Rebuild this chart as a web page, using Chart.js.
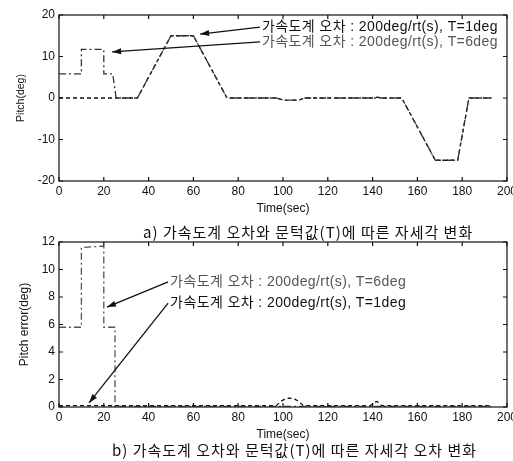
<!DOCTYPE html>
<html>
<head>
<meta charset="utf-8">
<script src="https://cdn.jsdelivr.net/npm/chart.js@4"></script>
<style>
  body { margin: 0; background: #fff; }
  #wrap { position: relative; width: 513px; height: 461px; overflow: hidden; }
  canvas { position: absolute; left: 0; }
  .cap { position: absolute; font: 15px "Noto Sans CJK KR", sans-serif; letter-spacing: 1px; color: #111; white-space: nowrap; }
</style>
</head>
<body>
<div id="wrap">
  <canvas id="chartA" width="530" height="216" style="top:0"></canvas>
  <canvas id="chartB" width="530" height="212" style="top:230px"></canvas>
  <div class="cap" style="left:143px; top:221px">a) 가속도계 오차와 문턱값(T)에 따른 자세각 변화</div>
  <div class="cap" style="left:112px; top:439px">b) 가속도계 오차와 문턱값(T)에 따른 자세각 오차 변화</div>
</div>
<script>
// a) pitch, T=1deg
const timeA1 = [0, 35, 50, 60, 75, 97, 100, 107, 110, 140, 142, 144, 153, 168, 178, 183, 193];
const pitchA1 = [0, 0, 15, 15, 0, 0, -0.5, -0.5, 0, 0, 0.2, 0, 0, -15, -15, 0, 0];
// a) pitch, T=6deg
const timeA6 = [0, 10, 10, 20, 20, 24, 25.5, 35, 50, 60, 75, 97, 100, 107, 110, 153, 168, 178, 183, 193];
const pitchA6 = [5.8, 5.8, 11.7, 11.7, 5.8, 5.8, 0, 0, 15, 15, 0, 0, -0.5, -0.5, 0, 0, -15, -15, 0, 0];
// b) pitch error, T=1deg
const timeB1 = [0, 97, 99, 101, 103, 105, 107, 109, 139, 141, 142, 144, 193];
const errB1 = [0.1, 0.1, 0.4, 0.6, 0.65, 0.6, 0.4, 0.1, 0.1, 0.35, 0.4, 0.1, 0.1];
// b) pitch error, T=6deg
const timeB6 = [0, 10, 10, 20, 20, 25, 25, 193];
const errB6 = [5.8, 5.8, 11.6, 11.7, 5.8, 5.8, 0.05, 0.05];

const xTicks = [0, 20, 40, 60, 80, 100, 120, 140, 160, 180, 200];
const labelT1 = "가속도계 오차 : 200deg/rt(s), T=1deg";
const labelT6 = "가속도계 오차 : 200deg/rt(s), T=6deg";

const pts = (xs, ys) => xs.map((x, i) => ({ x: x, y: ys[i] }));
const tickFont = { family: "'Liberation Sans', Arial, sans-serif", size: 12 };

const framePlugin = {
  id: "frame",
  afterDatasetsDraw(chart) {
    const { ctx, chartArea: a, scales } = chart;
    ctx.save();
    ctx.strokeStyle = "#111";
    ctx.lineWidth = 1.2;
    ctx.strokeRect(a.left, a.top, a.right - a.left, a.bottom - a.top);
    ctx.beginPath();
    scales.x.ticks.forEach((t) => {
      const px = scales.x.getPixelForValue(t.value);
      ctx.moveTo(px, a.bottom); ctx.lineTo(px, a.bottom - 4);
      ctx.moveTo(px, a.top); ctx.lineTo(px, a.top + 4);
    });
    scales.y.ticks.forEach((t) => {
      const py = scales.y.getPixelForValue(t.value);
      ctx.moveTo(a.left, py); ctx.lineTo(a.left + 4, py);
      ctx.moveTo(a.right, py); ctx.lineTo(a.right - 4, py);
    });
    ctx.stroke();
    ctx.restore();
  },
};

const notesPlugin = {
  id: "notes",
  afterDraw(chart, args, opts) {
    const { ctx, scales: { x, y } } = chart;
    ctx.save();
    ctx.font = "14px 'Liberation Sans', 'Noto Sans CJK KR', sans-serif";
    if ("letterSpacing" in ctx) ctx.letterSpacing = "0.4px";
    ctx.textBaseline = "middle";
    (opts.items || []).forEach((n) => {
      const tx = x.getPixelForValue(n.tx), ty = y.getPixelForValue(n.ty);
      const hx = x.getPixelForValue(n.hx), hy = y.getPixelForValue(n.hy);
      ctx.fillStyle = n.color;
      ctx.fillText(n.text, tx, ty);
      ctx.strokeStyle = "#111";
      ctx.fillStyle = "#111";
      ctx.lineWidth = 1.3;
      ctx.beginPath();
      ctx.moveTo(tx - 2, ty);
      ctx.lineTo(hx, hy);
      ctx.stroke();
      const ang = Math.atan2(hy - ty, hx - tx);
      ctx.beginPath();
      ctx.moveTo(hx, hy);
      ctx.lineTo(hx - 9 * Math.cos(ang) + 3 * Math.sin(ang), hy - 9 * Math.sin(ang) - 3 * Math.cos(ang));
      ctx.lineTo(hx - 9 * Math.cos(ang) - 3 * Math.sin(ang), hy - 9 * Math.sin(ang) + 3 * Math.cos(ang));
      ctx.closePath();
      ctx.fill();
    });
    ctx.restore();
  },
};

function makeChart(id, datasets, yOpts, yTitle, titlePad, notes) {
  return new Chart(document.getElementById(id), {
    type: "line",
    data: { datasets: datasets },
    plugins: [framePlugin, notesPlugin],
    options: {
      responsive: false,
      animation: false,
      devicePixelRatio: 1,
      layout: { padding: { left: 0, right: 23, top: id === "chartA" ? 15 : 12, bottom: 0 } },
      plugins: { legend: { display: false }, tooltip: { enabled: false }, notes: { items: notes } },
      elements: { point: { radius: 0 }, line: { tension: 0 } },
      scales: {
        x: {
          type: "linear", min: 0, max: 200,
          afterBuildTicks: (s) => { s.ticks = xTicks.map((v) => ({ value: v })); },
          ticks: { padding: 3, color: "#111", font: tickFont, maxRotation: 0 },
          grid: { display: false, drawTicks: false },
          border: { display: false },
          title: { display: true, text: "Time(sec)", color: "#111", font: tickFont, padding: { top: 0, bottom: 0 } },
          afterFit: (s) => { s.height = 35; },
        },
        y: Object.assign({
          ticks: { padding: 4, color: "#111", font: tickFont },
          grid: { display: false, drawTicks: false },
          border: { display: false },
          title: { display: true, text: yTitle, color: "#111", font: { family: tickFont.family, size: titlePad.size }, padding: { top: titlePad.pad, bottom: 0 } },
          afterFit: (s) => { s.width = 59; },
        }, yOpts),
      },
    },
  });
}

makeChart("chartA", [
  { data: pts(timeA6, pitchA6), borderColor: "#333", borderWidth: 1.3, borderDash: [7, 3, 2, 3] },
  { data: pts(timeA1, pitchA1), borderColor: "#111", borderWidth: 1.3, borderDash: [4, 3] },
], { min: -20, max: 20, afterBuildTicks: (s) => { s.ticks = [-20, -10, 0, 10, 20].map((v) => ({ value: v })); } },
"Pitch(deg)", { size: 10.5, pad: 15 }, [
  { text: labelT1, color: "#111", tx: 90.6, ty: 17.1, hx: 63, hy: 15.4 },
  { text: labelT6, color: "#555", tx: 90.6, ty: 13.5, hx: 23.7, hy: 11.1 },
]);

makeChart("chartB", [
  { data: pts(timeB6, errB6), borderColor: "#555", borderWidth: 1.3, borderDash: [7, 3, 2, 3] },
  { data: pts(timeB1, errB1), borderColor: "#111", borderWidth: 1.3, borderDash: [4, 3] },
], { min: 0, max: 12, afterBuildTicks: (s) => { s.ticks = [0, 2, 4, 6, 8, 10, 12].map((v) => ({ value: v })); } },
"Pitch error(deg)", { size: 12, pad: 17 }, [
  { text: labelT6, color: "#555", tx: 49.6, ty: 9.1, hx: 21.4, hy: 7.27 },
  { text: labelT1, color: "#111", tx: 49.6, ty: 7.56, hx: 13.4, hy: 0.3 },
]);
</script>
</body>
</html>
